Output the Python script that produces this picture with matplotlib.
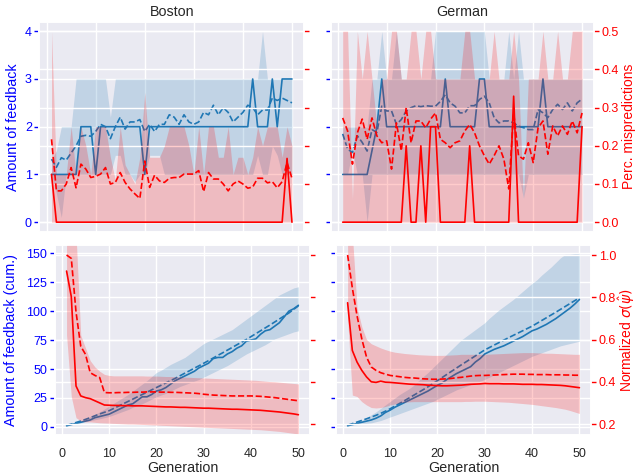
import matplotlib
matplotlib.use("Agg")
import matplotlib.pyplot as plt
import seaborn as sns

sns.set_theme(style="darkgrid")
plt.rcParams["font.family"] = ["Liberation Sans", "DejaVu Sans"]

gen = list(range(1, 51))

# ---- Boston, per generation: amount of feedback (median / mean / band)
bos_fb_med = [1, 1, 1, 1, 1, 1, 2, 2, 2, 1, 2, 2, 2, 2, 2, 2, 2, 2, 2, 1,
              2, 2, 2, 2, 2, 2, 2, 2, 2, 2, 2, 2, 2, 2, 2, 2, 2, 2, 2, 2,
              2, 3, 2, 2, 2, 3, 2, 3, 3, 3]
bos_fb_mean = [1.32, 1.15, 1.35, 1.3, 1.45, 1.6, 1.8, 1.82, 1.8, 1.9,
               2.05, 2.0, 1.75, 2.0, 2.2, 1.95, 2.1, 2.1, 2.15, 1.9,
               2.05, 1.9, 2.05, 2.05, 2.25, 2.2, 2.05, 2.25, 2.1, 2.05,
               2.1, 2.3, 2.25, 2.45, 2.25, 2.4, 2.3, 2.1, 2.2, 2.3,
               2.45, 2.4, 2.25, 2.35, 2.35, 2.6, 2.55, 2.6, 2.55, 2.5]
bos_fb_lo = [1, 0.6, 0.1, 1, 1, 1, 1, 1, 1, 1, 1, 1, 1, 1.4, 1.4, 1, 1, 0.85, 1, 1,
             1.4, 1.4, 1.4, 1, 1, 1, 1, 1, 1, 1, 1, 1, 1, 1, 1, 1, 1, 1, 1, 1,
             1, 1, 1.4, 1, 1, 1.6, 1.4, 1, 1, 1]
bos_fb_hi = [1.3, 1.5, 2, 2, 2, 3, 3, 3, 3, 3, 3, 3, 2.2, 3, 3, 3, 3, 3, 3, 3,
             3, 3, 3, 3, 3, 3, 3, 3, 3, 3, 3, 3, 3, 3, 3, 3, 3, 3, 3, 3,
             3, 3, 3, 4, 3, 3, 3, 3, 3, 3]

# ---- Boston, per generation: share of mispredictions
bos_mis_med = [0.125, 0, 0, 0, 0, 0, 0, 0, 0, 0, 0, 0, 0, 0, 0, 0, 0, 0, 0, 0,
               0, 0, 0, 0, 0, 0, 0, 0, 0, 0, 0, 0, 0, 0, 0, 0, 0, 0, 0, 0,
               0, 0, 0, 0, 0, 0, 0, 0, 0.167, 0]
bos_mis_mean = [0.217, 0.082, 0.082, 0.1, 0.143, 0.09, 0.152, 0.139, 0.117, 0.12,
                0.126, 0.143, 0.1, 0.104, 0.13, 0.104, 0.087, 0.074, 0.062, 0.16,
                0.091, 0.123, 0.108, 0.104, 0.115, 0.117, 0.117, 0.126, 0.126, 0.126,
                0.135, 0.08, 0.13, 0.113, 0.113, 0.1, 0.082, 0.1, 0.108, 0.1,
                0.089, 0.092, 0.115, 0.115, 0.103, 0.106, 0.09, 0.106, 0.156, 0.115]
bos_mis_lo = [0] * 50
bos_mis_hi = [0.5, 0.125, 0.125, 0.125, 0.25, 0.125, 0.25, 0.2, 0.125, 0.25,
              0.25, 0.25, 0.17, 0.11, 0.25, 0.15, 0.125, 0.1, 0.17, 0.34,
              0.17, 0.17, 0.17, 0.2, 0.25, 0.25, 0.25, 0.25, 0.2, 0.125,
              0.25, 0.125, 0.25, 0.25, 0.17, 0.17, 0.25, 0.125, 0.17, 0.17,
              0.125, 0.17, 0.25, 0.2, 0.25, 0.25, 0.25, 0.17, 0.25, 0.2]

# ---- German, per generation
ger_fb_med = [1, 1, 1, 1, 1, 1, 1.5, 2, 3, 2, 2, 2, 2, 2, 2, 2, 2, 2, 2, 2,
              2, 3, 2, 2, 2, 2, 2, 2, 3, 3, 2, 2, 2, 2, 2, 2, 2, 2, 2, 2,
              2, 3, 2, 2, 2, 2, 2, 2, 2, 2]
ger_fb_mean = [1.85, 1.53, 1.46, 1.81, 1.67, 1.49, 1.94, 1.88, 2.43, 2.33,
               2.33, 2.05, 2.15, 2.33, 2.4, 2.44, 2.42, 2.44, 2.43, 2.43,
               2.53, 2.67, 2.5, 2.43, 2.29, 2.29, 2.44, 2.44, 2.57, 2.64,
               2.5, 2.19, 2.08, 2.12, 2.12, 2.08, 2.01, 1.98, 1.94, 1.94,
               2.36, 2.29, 2.19, 2.36, 2.47, 2.36, 2.5, 2.33, 2.5, 2.58]
ger_fb_lo = [1, 1, 1.5, 1, 1, 0, 1, 1, 1, 1, 1, 1, 1, 1, 1, 1, 1, 1, 1, 1,
             1, 1, 1, 1, 1, 1, 1, 1, 1, 1, 1, 1, 1, 1, 1, 1, 1, 0.5, 1, 1,
             1, 1, 1, 1, 1, 1, 1, 1, 1, 1]
ger_fb_hi = [2, 2, 2, 2, 2, 2, 3, 3, 4, 3, 3, 4, 3, 3, 3, 3, 3, 3, 3, 4,
             4, 4, 4, 4, 4, 4, 4, 4, 4, 4, 3, 3, 3, 3, 4, 3, 4, 3, 3, 3,
             3, 3, 3, 3, 3, 3, 3, 3, 3, 3]

ger_mis_med = [0, 0, 0, 0, 0, 0, 0, 0, 0, 0, 0, 0, 0, 0.2, 0, 0, 0.2, 0, 0.25, 0.25,
               0, 0, 0, 0, 0, 0, 0.2, 0, 0, 0, 0, 0, 0, 0, 0, 0.33, 0, 0, 0, 0,
               0, 0, 0, 0, 0, 0, 0, 0, 0, 0.25]
ger_mis_mean = [0.273, 0.239, 0.152, 0.234, 0.27, 0.217, 0.273, 0.226, 0.208, 0.213,
                0.139, 0.26, 0.187, 0.3, 0.208, 0.265, 0.265, 0.247, 0.27, 0.286,
                0.217, 0.208, 0.195, 0.208, 0.213, 0.239, 0.256, 0.234, 0.2, 0.174,
                0.152, 0.174, 0.2, 0.165, 0.087, 0.286, 0.174, 0.165, 0.208, 0.156,
                0.247, 0.265, 0.178, 0.252, 0.226, 0.252, 0.23, 0.265, 0.234, 0.286]
ger_mis_lo = [0] * 50
ger_mis_hi = [0.5, 0.5, 0.06, 0.5, 0.375, 0.5, 0.375, 0.25, 0.375, 0.375,
              0.5, 0.5, 0.375, 0.375, 0.5, 0.5, 0.375, 0.5, 0.5, 0.375,
              0.375, 0.375, 0.375, 0.375, 0.375, 0.5, 0.5, 0.375, 0.375, 0.375,
              0.375, 0.5, 0.375, 0.375, 0.375, 0.5, 0.375, 0.06, 0.375, 0.375,
              0.375, 0.5, 0.375, 0.375, 0.5, 0.375, 0.375, 0.5, 0.5, 0.5]

# ---- Boston, cumulative feedback and normalized sigma
bos_cum_med = [1, 2, 3, 4, 5, 6, 8, 9, 10, 11, 13, 15, 17, 19, 20, 23, 26, 26, 28, 31,
               32, 34, 37, 40, 42, 44, 46, 48, 51, 53, 55, 59, 60, 60, 63, 65, 68, 70, 74, 75,
               76, 80, 83, 84, 87, 90, 95, 100, 102, 105]
bos_cum_mean = [1.3, 2.5, 3.8, 5.1, 6.5, 8, 9.6, 11.2, 12.6, 14, 16, 18, 20, 22, 24, 26, 28, 30, 32, 34,
                36, 38, 40, 42, 44.2, 46.4, 48.5, 50.7, 52.8, 55, 57.2, 59.5, 61.8, 64, 66.3,
                68.6, 70.9, 73.2, 75.5, 78, 80.5, 83, 85.5, 88, 90.6, 93.2, 95.8, 98.4, 101.5, 104.5]
bos_cum_lo = [1, 2, 2.6, 3.4, 4.5, 5.3, 6.2, 7, 8, 9, 10.5, 12, 13.5, 15, 17, 18.5, 20, 22, 24, 26,
              27.5, 29, 31, 33, 35, 36.5, 38, 39.5, 41, 43, 45, 47, 49, 51, 53, 55.5, 58, 60.5, 63, 65,
              67, 69, 71, 73.5, 76, 77.5, 79, 80.5, 82, 83]
bos_cum_hi = [1, 2.3, 3.6, 5.2, 7, 9, 11, 13, 15.5, 18, 20.5, 23, 25.5, 28, 31, 34, 37, 40, 43.5, 47,
              49, 51.5, 54, 56, 58, 60, 63, 66, 69, 72, 74, 76, 78, 80, 82, 84, 87, 90, 93, 96,
              99, 102, 105, 108, 111, 114, 116, 118, 120, 121]

bos_sig_med = [0.924, 0.803, 0.38, 0.333, 0.325, 0.32, 0.31, 0.3, 0.29, 0.289,
               0.288, 0.288, 0.287, 0.287, 0.286, 0.286, 0.286, 0.285, 0.284, 0.283,
               0.282, 0.281, 0.281, 0.28, 0.279, 0.279, 0.278, 0.277, 0.276, 0.275,
               0.275, 0.274, 0.273, 0.272, 0.271, 0.27, 0.27, 0.269, 0.268, 0.267,
               0.266, 0.265, 0.263, 0.261, 0.259, 0.257, 0.254, 0.251, 0.248, 0.244]
bos_sig_mean = [1.0, 0.984, 0.73, 0.568, 0.53, 0.443, 0.43, 0.42, 0.349, 0.348,
                0.348, 0.349, 0.349, 0.35, 0.35, 0.351, 0.351, 0.352, 0.352, 0.352,
                0.351, 0.351, 0.35, 0.35, 0.349, 0.348, 0.347, 0.346, 0.344, 0.341,
                0.339, 0.337, 0.336, 0.335, 0.334, 0.333, 0.333, 0.333, 0.333, 0.333,
                0.332, 0.331, 0.329, 0.327, 0.325, 0.322, 0.319, 0.316, 0.313, 0.31]
bos_sig_lo = [0.62, 0.33, 0.23, 0.215, 0.21, 0.21, 0.208, 0.206, 0.205, 0.204,
              0.203, 0.202, 0.201, 0.2, 0.2, 0.199, 0.198, 0.197, 0.196, 0.195,
              0.194, 0.193, 0.192, 0.191, 0.19, 0.189, 0.188, 0.187, 0.186, 0.185,
              0.184, 0.183, 0.182, 0.181, 0.18, 0.179, 0.178, 0.177, 0.176, 0.175,
              0.174, 0.173, 0.171, 0.169, 0.167, 0.165, 0.162, 0.159, 0.156, 0.153]
bos_sig_hi = [1.3, 1.25, 1.1, 0.62, 0.56, 0.5, 0.47, 0.45, 0.435, 0.43,
              0.428, 0.428, 0.428, 0.428, 0.428, 0.428, 0.428, 0.427, 0.427, 0.427,
              0.426, 0.425, 0.425, 0.424, 0.423, 0.422, 0.421, 0.42, 0.419, 0.418,
              0.417, 0.416, 0.415, 0.414, 0.413, 0.412, 0.411, 0.41, 0.409, 0.408,
              0.407, 0.405, 0.403, 0.401, 0.4, 0.398, 0.396, 0.394, 0.392, 0.39]

# ---- German, cumulative feedback and normalized sigma
ger_cum_med = [1, 2, 3, 4, 5, 6, 7.5, 9.5, 12.5, 14.5, 17, 19, 21, 23, 25, 27, 29, 31, 33.5, 36,
               38, 41, 43.5, 46, 48, 50, 52, 56, 59, 63, 65, 67, 68.5, 70, 72, 74, 76, 78, 80.5, 83,
               84.5, 86.5, 88.5, 91, 93.5, 96.5, 99.5, 102.5, 106, 110]
ger_cum_mean = [1.5, 2.8, 4.2, 5.6, 7, 8.5, 10, 11.7, 13.6, 15.7, 18, 20.3, 22.6, 25, 27.4, 29.8,
                32.2, 34.7, 37.3, 40, 42.7, 45.4, 48.1, 50.8, 53.5, 56.1, 58.7, 61.3, 63.9, 66.5,
                68.6, 70.7, 72.8, 74.9, 77, 79, 81, 83, 85, 87, 89.4, 91.8, 94.2, 96.6, 99,
                101.5, 104, 106.5, 109, 111.4]
ger_cum_lo = [1, 1.5, 2, 2.5, 3, 3.5, 4.5, 5.5, 7, 8.6, 10, 11.5, 13, 14.5, 16, 17.5, 19, 20.5, 22, 24,
              26, 28, 30, 32, 33.5, 35, 36.5, 38, 39.5, 41, 43, 45, 47, 49, 51, 53, 55, 57, 59, 61,
              62.5, 64, 65.5, 67, 68.5, 70, 71, 72, 73, 74]
ger_cum_hi = [1, 3, 4.5, 6, 8, 10.5, 13, 16, 19, 22, 25, 28, 30.5, 33, 36, 40, 43.5, 47, 51, 55,
              59, 63, 67, 71, 75, 78, 81, 84, 87, 90, 94, 97.5, 101, 104, 107, 110, 113.5, 117, 120.5, 124,
              127, 131, 134.5, 138, 142, 146, 149, 149, 149.5, 149.5]

ger_sig_med = [0.774, 0.548, 0.493, 0.454, 0.423, 0.4, 0.397, 0.403, 0.398, 0.397,
               0.395, 0.393, 0.391, 0.389, 0.388, 0.387, 0.386, 0.384, 0.383, 0.382,
               0.381, 0.381, 0.382, 0.383, 0.384, 0.386, 0.388, 0.389, 0.39, 0.392,
               0.391, 0.391, 0.391, 0.39, 0.39, 0.39, 0.389, 0.388, 0.388, 0.388,
               0.387, 0.387, 0.386, 0.385, 0.384, 0.383, 0.381, 0.378, 0.375, 0.372]
ger_sig_mean = [1.0, 0.844, 0.712, 0.603, 0.517, 0.47, 0.454, 0.443, 0.436, 0.43,
                0.427, 0.424, 0.421, 0.419, 0.418, 0.416, 0.414, 0.413, 0.412, 0.412,
                0.413, 0.414, 0.416, 0.419, 0.421, 0.424, 0.427, 0.429, 0.43, 0.43,
                0.431, 0.432, 0.433, 0.434, 0.435, 0.436, 0.436, 0.436, 0.435, 0.435,
                0.434, 0.434, 0.434, 0.433, 0.433, 0.433, 0.432, 0.432, 0.431, 0.431]
ger_sig_lo = [0.7, 0.337, 0.33, 0.306, 0.29, 0.278, 0.276, 0.278, 0.283, 0.29,
              0.295, 0.3, 0.303, 0.305, 0.306, 0.306, 0.306, 0.306, 0.306, 0.306,
              0.306, 0.306, 0.306, 0.306, 0.306, 0.307, 0.307, 0.308, 0.308, 0.308,
              0.307, 0.306, 0.305, 0.304, 0.303, 0.301, 0.299, 0.297, 0.295, 0.293,
              0.29, 0.287, 0.284, 0.281, 0.278, 0.274, 0.27, 0.264, 0.257, 0.25]
ger_sig_hi = [1.3, 1.1, 0.75, 0.66, 0.6, 0.58, 0.57, 0.56, 0.552, 0.545,
              0.54, 0.537, 0.534, 0.532, 0.53, 0.528, 0.527, 0.526, 0.525, 0.525,
              0.525, 0.526, 0.527, 0.528, 0.53, 0.53, 0.53, 0.53, 0.53, 0.53,
              0.531, 0.532, 0.533, 0.534, 0.535, 0.536, 0.537, 0.538, 0.538, 0.538,
              0.537, 0.536, 0.535, 0.535, 0.534, 0.533, 0.532, 0.531, 0.53, 0.53]

BLUE = "#1f77b4"
RED = "red"
TXT = "#262626"

fig = plt.figure(figsize=(6.37, 4.76), dpi=100)


def band(ax, med, mean, lo, hi, color):
    ax.fill_between(gen, lo, hi, color=color, alpha=0.2, lw=0)
    ax.plot(gen, med, color=color, lw=1.2)
    ax.plot(gen, mean, color=color, lw=1.2, ls="--")


def panel(rect, fb, mis, left, bottom_row):
    ax = fig.add_axes(rect)
    band(ax, *fb, BLUE)
    tw = ax.twinx()
    band(tw, *mis, RED)
    ax.set_xlim(-1.45, 52.45)
    ax.set_xticks([0, 10, 20, 30, 40, 50])
    ax.tick_params(axis="x", bottom=False, labelsize=9, labelcolor=TXT, pad=3,
                   labelbottom=bottom_row)
    ax.tick_params(axis="y", left=True, length=3.5, width=1, colors="blue",
                   labelsize=9, pad=2, labelleft=left)
    tw.tick_params(axis="y", right=True, left=False, length=3.5, width=1, colors="red",
                   labelsize=9, pad=2, labelright=not left)
    if bottom_row:
        ax.set_xlabel("Generation", fontsize=10.3, color=TXT, labelpad=1)
    return ax, tw


# top row: per-generation values
ax1, tw1 = panel([0.062, 0.5132, 0.4152, 0.4412],
                 (bos_fb_med, bos_fb_mean, bos_fb_lo, bos_fb_hi),
                 (bos_mis_med, bos_mis_mean, bos_mis_lo, bos_mis_hi), True, False)
ax2, tw2 = panel([0.5192, 0.5132, 0.4133, 0.4412],
                 (ger_fb_med, ger_fb_mean, ger_fb_lo, ger_fb_hi),
                 (ger_mis_med, ger_mis_mean, ger_mis_lo, ger_mis_hi), False, False)
# bottom row: cumulative values
ax3, tw3 = panel([0.0863, 0.0861, 0.4003, 0.399],
                 (bos_cum_med, bos_cum_mean, bos_cum_lo, bos_cum_hi),
                 (bos_sig_med, bos_sig_mean, bos_sig_lo, bos_sig_hi), True, True)
ax4, tw4 = panel([0.5275, 0.0861, 0.4003, 0.399],
                 (ger_cum_med, ger_cum_mean, ger_cum_lo, ger_cum_hi),
                 (ger_sig_med, ger_sig_mean, ger_sig_lo, ger_sig_hi), False, True)

for a in (ax1, ax2):
    a.set_ylim(-0.2, 4.2)
    a.set_yticks([0, 1, 2, 3, 4])
for t in (tw1, tw2):
    t.set_ylim(-0.025, 0.525)
    t.set_yticks([0.0, 0.1, 0.2, 0.3, 0.4, 0.5])
for a in (ax3, ax4):
    a.set_ylim(-7, 157)
    a.set_yticks([0, 25, 50, 75, 100, 125, 150])
for t in (tw3, tw4):
    t.set_ylim(0.148, 1.047)
    t.set_yticks([0.2, 0.4, 0.6, 0.8, 1.0])

ax1.set_title("Boston", fontsize=10.3, color=TXT, pad=4)
ax2.set_title("German", fontsize=10.3, color=TXT, pad=4)

ax1.set_ylabel("Amount of feedback", fontsize=10.3, color="blue")
ax1.yaxis.set_label_coords(-0.074, 0.5)
ax3.set_ylabel("Amount of feedback (cum.)", fontsize=10.3, color="blue")
ax3.yaxis.set_label_coords(-0.145, 0.5)
tw2.set_ylabel("Perc. mispredictions", fontsize=10, color="red")
tw2.yaxis.set_label_coords(1.108, 0.5)
tw4.set_ylabel(r"Normalized $\sigma(\hat{\psi})$", fontsize=10, color="red")
tw4.yaxis.set_label_coords(1.102, 0.5)

fig.savefig("out.png", dpi=100)
